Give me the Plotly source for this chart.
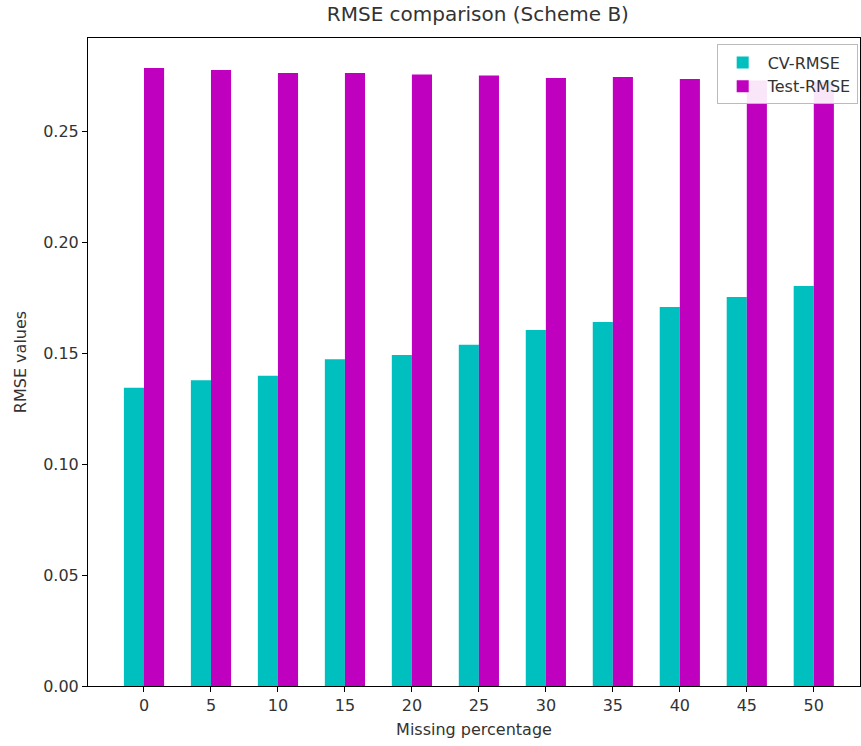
import plotly.graph_objects as go

categories = ["0", "5", "10", "15", "20", "25", "30", "35", "40", "45", "50"]
cv_rmse = [0.1343, 0.1377, 0.1398, 0.1472, 0.1491, 0.1537, 0.1604, 0.1640, 0.1707, 0.1752, 0.1802]
test_rmse = [0.2784, 0.2775, 0.2761, 0.2761, 0.2755, 0.2750, 0.2739, 0.2743, 0.2734, 0.2728, 0.2722]
yticks = [0.0, 0.05, 0.10, 0.15, 0.20, 0.25]

idx = list(range(len(categories)))
font = "DejaVu Sans"

fig = go.Figure()
fig.add_trace(go.Bar(x=idx, y=cv_rmse, width=0.3, offset=-0.3, name="CV-RMSE",
                     marker=dict(color="#00BFBF", line=dict(width=0))))
fig.add_trace(go.Bar(x=idx, y=test_rmse, width=0.3, offset=0.0, name="Test-RMSE",
                     marker=dict(color="#BF00BF", line=dict(width=0))))

fig.update_layout(
    width=861, height=746,
    margin=dict(l=88, r=1, t=38, b=60),
    plot_bgcolor="white", paper_bgcolor="white",
    font=dict(family=font, size=16, color="#333"),
    title=dict(text="RMSE comparison (Scheme B)", x=0.555, xanchor="center", y=0.99, yanchor="top",
               font=dict(size=20, color="#333")),
    barmode="overlay",
    showlegend=True,
    legend=dict(x=0.997, y=0.99, xanchor="right", yanchor="top",
                bgcolor="rgba(255,255,255,0.9)", bordercolor="#bbb", borderwidth=1,
                font=dict(size=16), tracegroupgap=0, itemwidth=40),
    xaxis=dict(range=[-0.836, 10.69], tickvals=idx, ticktext=categories,
               showline=True, linecolor="black", linewidth=1, mirror=True,
               ticks="outside", ticklen=5, tickcolor="black", showgrid=False, zeroline=False,
               title=dict(text="Missing percentage", standoff=9, font=dict(size=16))),
    yaxis=dict(range=[0, 0.2919], tickvals=yticks, ticktext=[f"{v:.2f}" for v in yticks],
               showline=True, linecolor="black", linewidth=1, mirror=True,
               ticks="outside", ticklen=5, tickcolor="black", showgrid=False, zeroline=False,
               title=dict(text="RMSE values", standoff=12, font=dict(size=16))),
)

fig.write_html("out.html")
